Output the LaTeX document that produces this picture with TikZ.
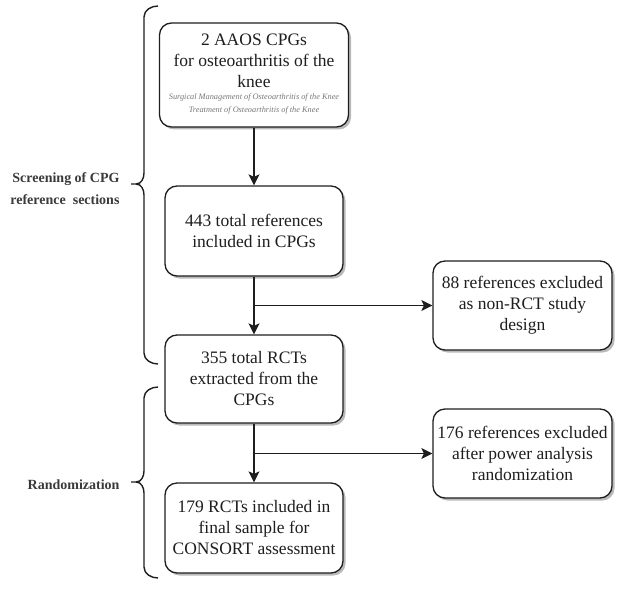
\documentclass[tikz,border=0pt]{standalone}
\usepackage{fontspec}
\setmainfont{Liberation Serif}
\usetikzlibrary{arrows.meta,shadows}
\definecolor{ink}{HTML}{1E1E1E}
\definecolor{lbl}{HTML}{3A3A3A}
\definecolor{subt}{HTML}{777777}
\tikzset{
  box/.style={draw=ink, line width=1.3pt, rounded corners=12pt, fill=white,
    text=ink, align=center, inner sep=2pt,
    font=\fontsize{17.5}{21}\selectfont,
    drop shadow={opacity=0.45, shadow xshift=2.5pt, shadow yshift=-2.5pt, fill=black!60}},
  conn/.style={draw=ink, line width=1.3pt, -{Stealth[length=11pt,width=11pt,inset=2.5pt]}},
  bracestyle/.style={draw=ink, line width=1.4pt},
  sidelabel/.style={text=lbl, align=right, anchor=east, font=\bfseries\fontsize{14}{22}\selectfont}
}
\begin{document}
\begin{tikzpicture}[x=1pt,y=-1pt]
\useasboundingbox (0,0) rectangle (618,591);
% main column
\node[box, minimum width=189pt, minimum height=104pt] (b1) at (254,75)
  {2 AAOS CPGs\\for osteoarthritis of the\\knee\\[-9pt]{\color{subt}\fontsize{8.3}{13}\selectfont\itshape\begin{tabular}[t]{@{}c@{}}Surgical Management of Osteoarthritis of the Knee\\Treatment of Osteoarthritis of the Knee\end{tabular}}};
\node[box, minimum width=178pt, minimum height=90pt] (b2) at (254,231)
  {443 total references\\included in CPGs};
\node[box, minimum width=178pt, minimum height=88pt] (b3) at (254,379)
  {355 total RCTs\\extracted from the\\CPGs};
\node[box, minimum width=178pt, minimum height=90pt] (b4) at (254,528)
  {179 RCTs included in\\final sample for\\CONSORT assessment};
% exclusion boxes
\node[box, minimum width=179pt, minimum height=89pt] (r1) at (522.5,305.5)
  {88 references excluded\\as non-RCT study\\design};
\node[box, minimum width=179pt, minimum height=89pt] (r2) at (522.5,453.5)
  {176 references excluded\\after power analysis\\randomization};
% connectors
\draw[conn] (b1.south) -- (b2.north);
\draw[conn] (b2.south) -- (b3.north);
\draw[conn] (b3.south) -- (b4.north);
\coordinate (j1) at (b2.south |- r1.west);
\coordinate (j2) at (b3.south |- r2.west);
\draw[conn] (j1) -- (r1.west);
\draw[conn] (j2) -- (r2.west);
% braces
\draw[bracestyle] (158,6) to[out=180,in=90] (144,17) -- (144,173)
  to[out=-90,in=0] (136,184) -- (131,184) -- (136,184)
  to[out=0,in=90] (144,195) -- (144,353) to[out=-90,in=180] (158,364);
\draw[bracestyle] (158,387) to[out=180,in=90] (144,398) -- (144,471)
  to[out=-90,in=0] (136,482) -- (131,482) -- (136,482)
  to[out=0,in=90] (144,493) -- (144,567) to[out=-90,in=180] (158,578);
% labels
\node[sidelabel] (l1) at (123,189) {Screening of CPG\\reference\ \ sections};
\node[sidelabel] (l2) at (123,485) {Randomization};
\end{tikzpicture}
\end{document}
